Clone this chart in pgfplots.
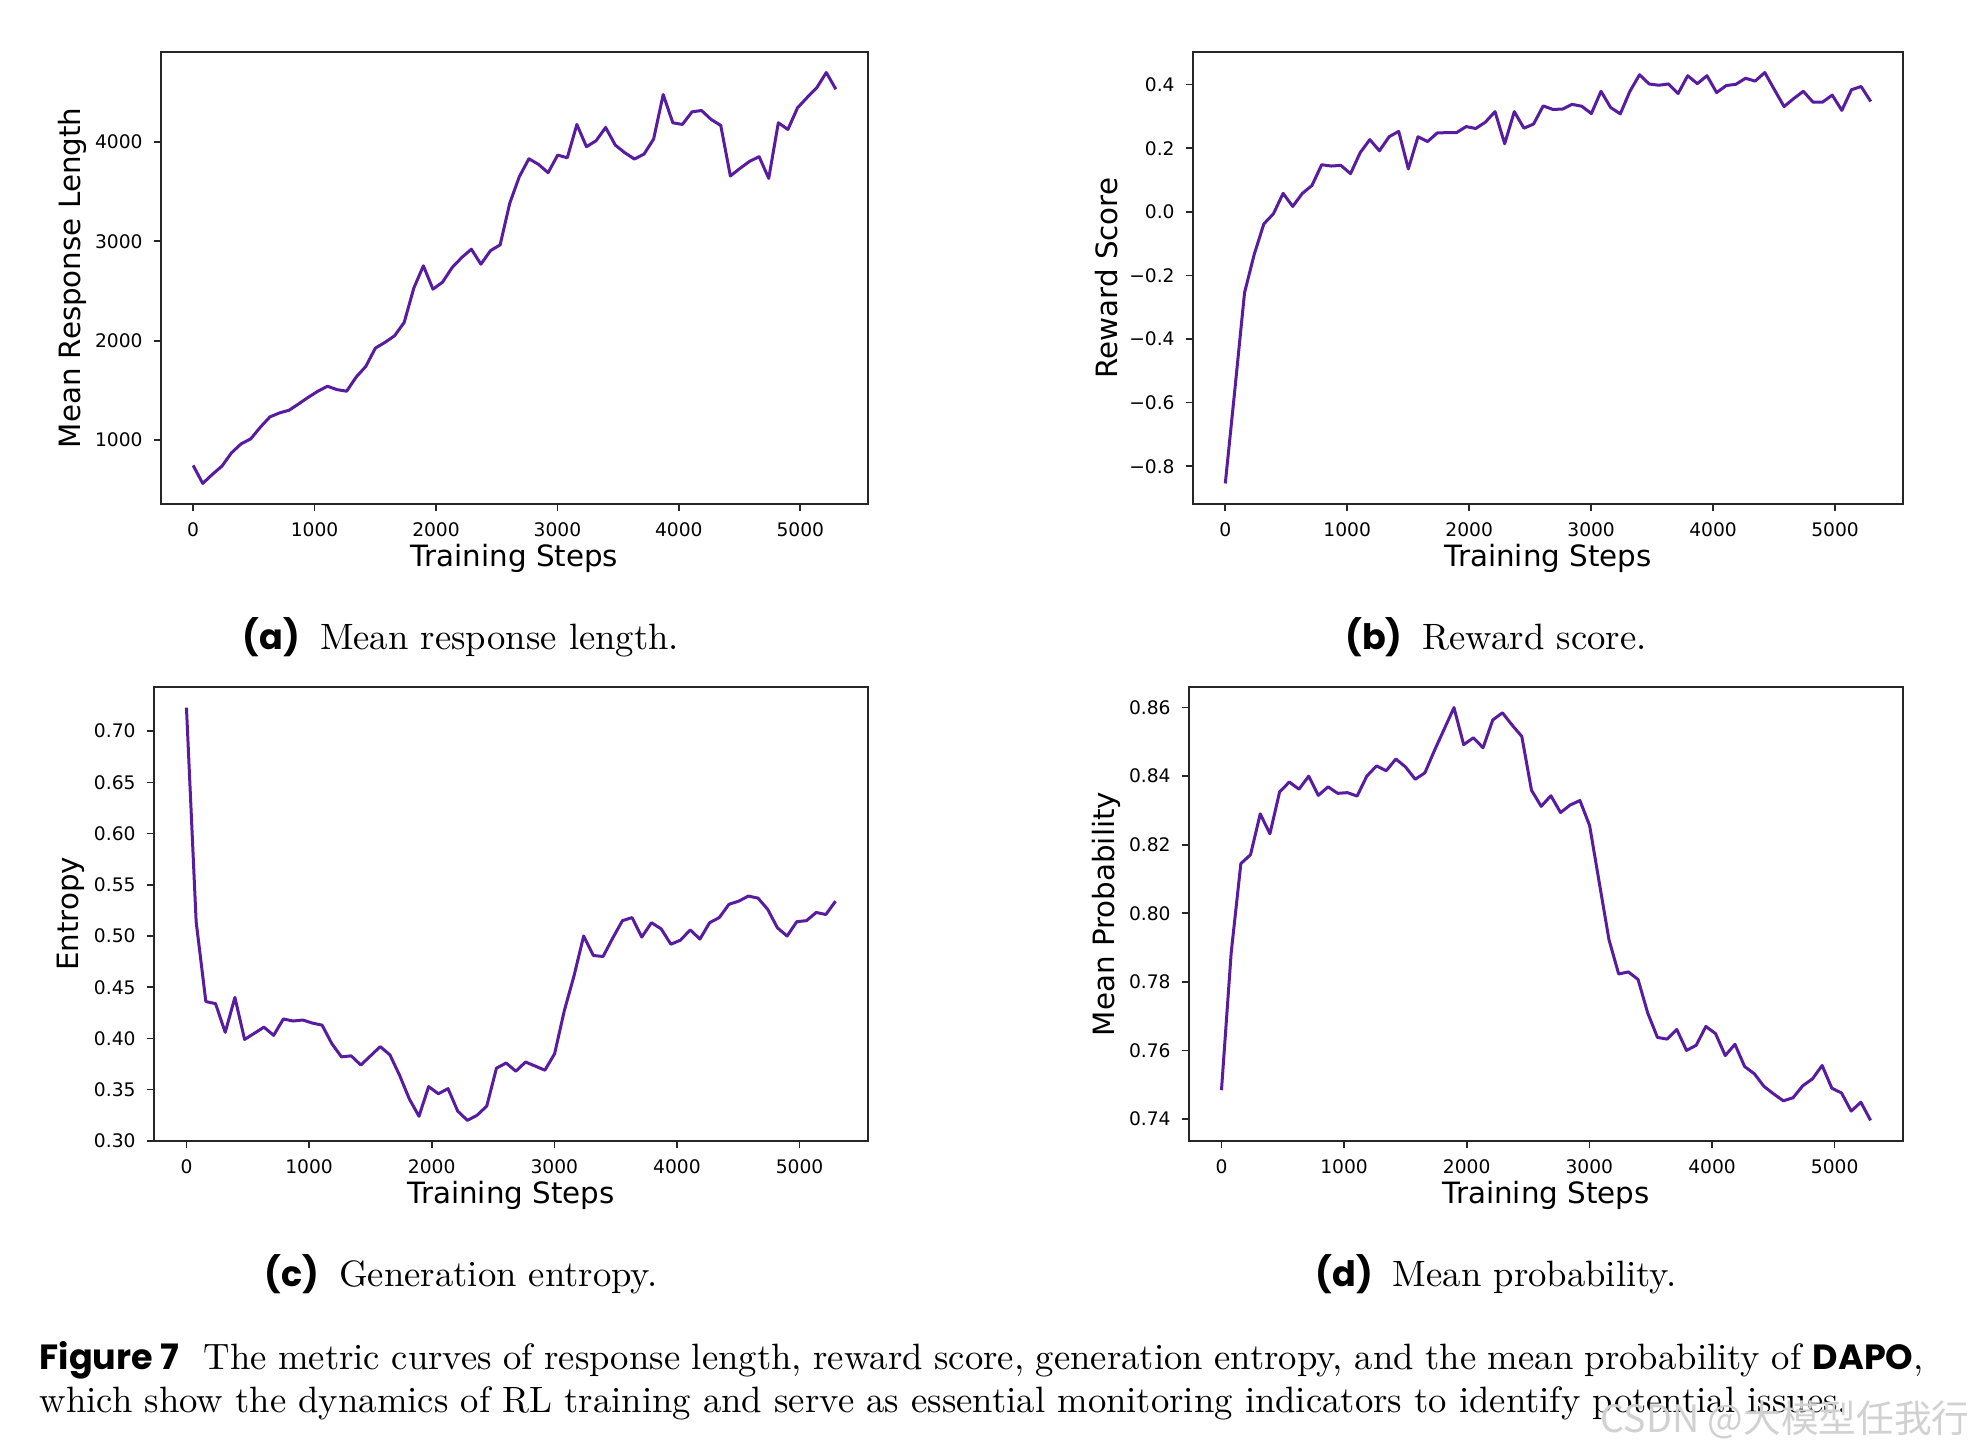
\documentclass[border=0pt]{standalone}
\usepackage{fontspec}
\setmainfont{Latin Modern Roman}
\newfontfamily\dejavu{DejaVu Sans}
\newfontfamily\poppins{Poppins}
\newfontfamily\cjk{Noto Sans CJK SC}
\usepackage{pgfplots}
\usepackage{pgfplotstable}
\pgfplotsset{compat=1.18}

\definecolor{curve}{RGB}{88,28,160}

% step, mean response length, reward score, entropy, mean probability
\pgfplotstableread{
step len  rew    ent   prob
0    746  -0.854 0.723 0.7484
79   565  -0.557 0.514 0.7884
158  656  -0.254 0.436 0.8145
237  739  -0.134 0.434 0.8171
316  873  -0.038 0.406 0.8290
395  963  -0.006 0.440 0.8232
474  1013 0.058  0.399 0.8354
553  1130 0.017  0.405 0.8383
632  1234 0.058  0.411 0.8362
711  1274 0.083  0.403 0.8400
790  1301 0.148  0.419 0.8344
869  1365 0.144  0.417 0.8369
948  1431 0.146  0.418 0.8350
1027 1492 0.120  0.415 0.8352
1106 1542 0.186  0.413 0.8342
1185 1508 0.227  0.395 0.8400
1264 1492 0.192  0.382 0.8430
1343 1635 0.236  0.383 0.8416
1422 1742 0.253  0.374 0.8450
1501 1926 0.135  0.383 0.8427
1580 1983 0.236  0.392 0.8391
1659 2050 0.221  0.384 0.8410
1738 2184 0.248  0.364 0.8476
1817 2528 0.249  0.341 0.8538
1896 2753 0.249  0.324 0.8600
1975 2518 0.268  0.353 0.8492
2054 2589 0.262  0.346 0.8512
2133 2736 0.282  0.351 0.8483
2212 2836 0.315  0.329 0.8564
2291 2920 0.214  0.320 0.8585
2370 2769 0.315  0.325 0.8549
2449 2906 0.263  0.334 0.8516
2528 2963 0.276  0.371 0.8359
2607 3381 0.333  0.376 0.8312
2686 3649 0.322  0.368 0.8343
2765 3829 0.323  0.377 0.8294
2844 3773 0.338  0.373 0.8316
2923 3689 0.332  0.369 0.8329
3002 3866 0.309  0.385 0.8256
3081 3839 0.379  0.427 0.8089
3160 4174 0.328  0.461 0.7923
3239 3950 0.308  0.500 0.7823
3318 4010 0.379  0.481 0.7829
3397 4144 0.431  0.480 0.7807
3476 3967 0.402  0.498 0.7709
3555 3890 0.398  0.515 0.7638
3634 3826 0.402  0.518 0.7633
3713 3876 0.372  0.499 0.7661
3792 4027 0.428  0.513 0.7600
3871 4475 0.403  0.507 0.7615
3950 4191 0.428  0.492 0.7670
4029 4174 0.375  0.496 0.7649
4108 4301 0.397  0.506 0.7585
4187 4314 0.401  0.497 0.7618
4266 4224 0.420  0.513 0.7553
4345 4164 0.411  0.518 0.7532
4424 3656 0.438  0.531 0.7495
4503 3732 0.384  0.534 0.7473
4582 3803 0.331  0.539 0.7453
4661 3850 0.356  0.537 0.7462
4740 3632 0.379  0.526 0.7497
4819 4191 0.345  0.508 0.7517
4898 4124 0.345  0.500 0.7556
4977 4341 0.367  0.514 0.7490
5056 4445 0.319  0.515 0.7476
5135 4542 0.384  0.523 0.7423
5214 4696 0.394  0.521 0.7449
5293 4528 0.347  0.534 0.7396
}\dapo

\pgfplotsset{
  panel/.style={
    scale only axis, anchor=south west,
    enlargelimits=0.05,
    axis line style={black!85, line width=0.6pt},
    tick align=outside, xtick pos=bottom, ytick pos=left,
    major tick length=2pt,
    tick style={black!85, line width=0.5pt},
    xtick={0,1000,2000,3000,4000,5000},
    xticklabels={0,1000,2000,3000,4000,5000},
    ticklabel style={font=\dejavu\fontsize{5.6}{6}\selectfont},
    label style={font=\dejavu\fontsize{8.8}{9.5}\selectfont},
    xlabel={Training Steps},
    xlabel style={at={(axis description cs:0.5,-0.12)}, anchor=center},
  },
  curveline/.style={curve, line width=0.9pt, line join=round, no marks},
}

\newcommand{\subcap}[2]{{\poppins\bfseries\fontsize{10.5}{12}\selectfont (#1)}\hspace{6pt}{\fontsize{11}{13}\selectfont #2}}

\begin{document}
\begin{tikzpicture}
\path[use as bounding box, fill=white] (0,0) rectangle (593.1pt,435.9pt);

% (a) mean response length
\begin{axis}[panel, at={(48.3pt,284.7pt)}, width=212.1pt, height=135.6pt,
  ytick={1000,2000,3000,4000}, yticklabels={1000,2000,3000,4000},
  ylabel={Mean Response Length},
  ylabel style={at={(axis description cs:-0.126,0.5)}, anchor=center}]
  \addplot[curveline] table[x=step, y=len] {\dapo};
\end{axis}

% (b) reward score
\begin{axis}[panel, at={(357.9pt,284.7pt)}, width=213pt, height=135.6pt,
  ytick={-0.8,-0.6,-0.4,-0.2,0,0.2,0.4},
  yticklabels={−0.8,−0.6,−0.4,−0.2,0.0,0.2,0.4},
  ylabel={Reward Score},
  ylabel style={at={(axis description cs:-0.122,0.5)}, anchor=center}]
  \addplot[curveline] table[x=step, y=rew] {\dapo};
\end{axis}

% (c) generation entropy
\begin{axis}[panel, at={(46.2pt,93.6pt)}, width=214.2pt, height=136.2pt,
  ytick={0.30,0.35,0.40,0.45,0.50,0.55,0.60,0.65,0.70},
  yticklabels={0.30,0.35,0.40,0.45,0.50,0.55,0.60,0.65,0.70},
  ylabel={Entropy},
  ylabel style={at={(axis description cs:-0.116,0.5)}, anchor=center}]
  \addplot[curveline] table[x=step, y=ent] {\dapo};
\end{axis}

% (d) mean probability
\begin{axis}[panel, at={(356.7pt,93.6pt)}, width=214.2pt, height=136.2pt,
  ytick={0.74,0.76,0.78,0.80,0.82,0.84,0.86},
  yticklabels={0.74,0.76,0.78,0.80,0.82,0.84,0.86},
  ylabel={Mean Probability},
  ylabel style={at={(axis description cs:-0.116,0.5)}, anchor=center}]
  \addplot[curveline] table[x=step, y=prob] {\dapo};
\end{axis}

% sub-captions
\node[anchor=base, inner sep=0pt] at (138.3pt,240.9pt) {\subcap{a}{Mean response length.}};
\node[anchor=base, inner sep=0pt] at (448.8pt,240.9pt) {\subcap{b}{Reward score.}};
\node[anchor=base, inner sep=0pt] at (138.3pt,50.1pt) {\subcap{c}{Generation entropy.}};
\node[anchor=base, inner sep=0pt] at (448.8pt,50.1pt) {\subcap{d}{Mean probability.}};

% figure caption
\node[anchor=base west, inner sep=0pt] at (11.7pt,25.2pt) {\fontsize{11}{13}\selectfont
  \makebox[565.2pt][s]{{\poppins\bfseries\fontsize{10.5}{12}\selectfont Figure 7}\hspace{4pt} The metric curves of response length, reward score, generation entropy, and the mean probability of {\poppins\bfseries\fontsize{10.5}{12}\selectfont DAPO},}};
\node[anchor=base west, inner sep=0pt] at (11.7pt,12.3pt) {\fontsize{11}{13}\selectfont
  which show the dynamics of RL training and serve as essential monitoring indicators to identify potential issues.};

% watermark
\node[anchor=base east, inner sep=0pt, text=black!18] at (591pt,6.3pt) {\cjk\fontsize{11.3}{13}\selectfont CSDN @大模型任我行};
\end{tikzpicture}
\end{document}
